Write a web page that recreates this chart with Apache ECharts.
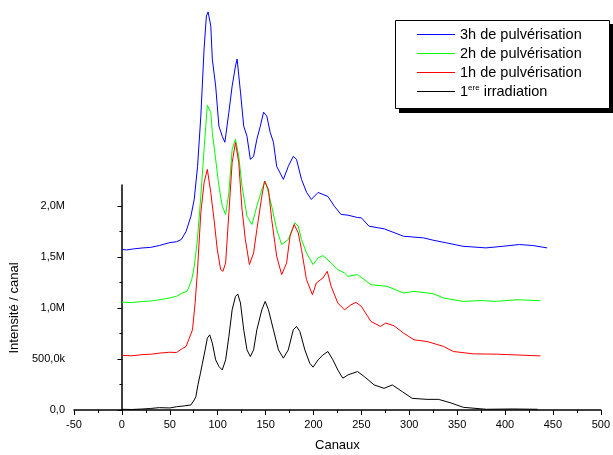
<!DOCTYPE html>
<html>
<head>
<meta charset="utf-8">
<script src="https://cdn.jsdelivr.net/npm/echarts@6/dist/echarts.min.js"></script>
<style>
  html, body { margin: 0; padding: 0; background: #fff; }
  #chart { width: 613px; height: 455px; }
</style>
</head>
<body>
<div id="chart"></div>
<script>
// spectra: [channel, intensity in millions]
const names = ['3h de pulvérisation', '2h de pulvérisation', '1h de pulvérisation', '1ere irradiation'];
const colors = ['#0000ff', '#00ff00', '#ff0000', '#000000'];

const pulv3h = [[0,1.57],[5,1.565],[12,1.575],[22,1.585],[30,1.59],[39,1.608],[50,1.637],[57,1.645],[62,1.667],[67,1.745],[72,1.892],[75.5,2.059],[79,2.382],[82.4,2.873],[85.8,3.529],[88.2,3.853],[90,3.892],[92.8,3.755],[94.4,3.431],[97.9,3.167],[101.3,2.775],[104.8,2.676],[107.5,2.618],[111.7,2.912],[115.1,3.167],[118.6,3.363],[120.3,3.431],[123.8,3.108],[127.2,2.775],[130.6,2.676],[134.1,2.451],[137.5,2.48],[140.9,2.647],[144.5,2.775],[147.9,2.912],[151.3,2.873],[154.8,2.716],[158.2,2.618],[161.6,2.382],[168.6,2.255],[173.7,2.382],[178.9,2.48],[182.3,2.451],[187.5,2.255],[192.9,2.127],[197.8,2.059],[204.8,2.127],[215.1,2.088],[222,1.99],[228.8,1.912],[236,1.905],[246,1.882],[250,1.879],[258,1.797],[274,1.771],[294,1.699],[315,1.683],[325,1.66],[339,1.634],[356,1.601],[380,1.585],[398,1.601],[415,1.618],[429,1.608],[444,1.585]];

const pulv2h = [[0,1.055],[10,1.05],[22,1.062],[30,1.065],[39,1.078],[50,1.095],[57,1.111],[63,1.144],[68,1.16],[70.3,1.209],[73,1.28],[75.5,1.4],[78.9,1.67],[82.4,2.091],[85.8,2.549],[87.6,2.778],[89.2,2.98],[92.8,2.909],[94.4,2.713],[97.9,2.451],[101.3,2.189],[104.8,1.993],[108.3,1.912],[111.7,2.125],[115.1,2.549],[118.6,2.647],[122,2.483],[125.4,2.189],[130.6,1.895],[135.8,1.814],[140.9,1.993],[146.1,2.157],[149.6,2.238],[153,2.125],[156.4,1.993],[161.6,1.765],[166.8,1.618],[173.7,1.667],[180.6,1.83],[184.1,1.797],[187.5,1.667],[192.7,1.536],[199.6,1.422],[204.8,1.487],[209.9,1.51],[218.5,1.438],[225.4,1.373],[232.4,1.34],[236,1.307],[246,1.324],[260,1.225],[277,1.209],[294,1.144],[305,1.16],[325,1.137],[336,1.095],[356,1.062],[375,1.07],[391,1.062],[412,1.078],[437,1.069]];

const pulv1h = [[0,0.535],[10,0.53],[22,0.542],[30,0.545],[39,0.556],[50,0.565],[57,0.562],[63,0.6],[67,0.621],[70.3,0.7],[73.7,0.784],[76.5,1.05],[78.9,1.36],[82.4,1.928],[85.8,2.222],[89.2,2.353],[92.8,2.125],[96.2,1.863],[99.6,1.569],[103.1,1.373],[105.5,1.356],[108.3,1.438],[111.7,1.928],[115.1,2.419],[118.6,2.615],[122,2.419],[125.4,1.961],[128.9,1.667],[133.1,1.422],[137.5,1.536],[140.9,1.765],[146.1,2.091],[148.9,2.238],[153,2.157],[156.4,1.863],[161.6,1.503],[166.8,1.324],[172,1.438],[175.5,1.699],[179.9,1.814],[184.1,1.732],[187.5,1.569],[192.7,1.275],[198.9,1.127],[203,1.242],[209.9,1.291],[214.4,1.356],[218.5,1.209],[225.4,1.046],[232.4,0.98],[239.2,1.029],[244.4,1.052],[250,1.013],[260,0.866],[270,0.817],[275.4,0.85],[284,0.824],[294,0.752],[305,0.686],[318.5,0.67],[336,0.621],[346,0.572],[367,0.549],[391,0.546],[437,0.529]];

const irrad1 = [[0,0.007],[10,0.005],[22,0.01],[30,0.015],[39,0.023],[50,0.02],[57,0.032],[65,0.04],[72,0.049],[75.5,0.098],[77.2,0.13],[79.5,0.25],[82,0.36],[84.1,0.458],[86.9,0.588],[89.2,0.703],[91.7,0.735],[94.4,0.654],[97.9,0.49],[101.3,0.425],[104.8,0.392],[108.3,0.49],[111.7,0.719],[115.1,0.98],[118.6,1.111],[121,1.134],[123.8,1.046],[127.2,0.784],[130.6,0.588],[134.1,0.523],[137.5,0.588],[140.9,0.784],[146.1,0.98],[149.6,1.062],[153,0.98],[158.2,0.784],[163.4,0.588],[168.6,0.507],[173.7,0.588],[178.9,0.784],[182.3,0.817],[185.8,0.768],[191,0.588],[196.1,0.458],[199.6,0.419],[204.8,0.49],[209.9,0.539],[215.1,0.572],[220.3,0.49],[225.4,0.392],[230.6,0.311],[236,0.343],[246,0.376],[253,0.327],[263.4,0.245],[273.7,0.212],[282.3,0.245],[292.7,0.18],[303,0.114],[318.5,0.104],[330.6,0.104],[342.6,0.072],[356.5,0.026],[380.6,0.007],[408,0.01],[434,0.007]];

const yTickLabels = ['0,0', '500,0k', '1,0M', '1,5M', '2,0M'];

const font = 'Liberation Sans, Arial, sans-serif';
const chart = echarts.init(document.getElementById('chart'));

const seriesData = [pulv3h, pulv2h, pulv1h, irrad1];

chart.setOption({
    backgroundColor: '#fff',
    animation: false,
    grid: [
        { left: 74, right: 6, top: 185, bottom: 45 },
        // second grid only carries the ticks/labels of the y axis (0 .. 2M)
        { left: 74, right: 6, top: 206, bottom: 45 }
    ],
    // legend frame with its hard black drop shadow
    graphic: [
        { type: 'rect', z: 10, shape: { x: 399, y: 24, width: 215, height: 89 }, style: { fill: '#000' } },
        { type: 'rect', z: 11, shape: { x: 395.5, y: 20.5, width: 214, height: 88 }, style: { fill: '#fff', stroke: '#000', lineWidth: 1 } }
    ],
    legend: {
        data: names,
        orient: 'vertical',
        left: 395,
        top: 20,
        z: 12,
        padding: [7, 25, 8, 22],
        itemGap: 4,
        itemWidth: 38,
        itemHeight: 15,
        icon: 'path://M0,0 L38,0 L38,1 L0,1 Z',
        formatter: function (name) {
            return name === '1ere irradiation' ? '1{sup|ere} irradiation' : name;
        },
        textStyle: {
            fontFamily: font,
            fontSize: 14.5,
            color: '#000',
            rich: {
                sup: { fontFamily: font, fontSize: 8, verticalAlign: 'top', color: '#000' }
            }
        }
    },
    xAxis: [
        {
            gridIndex: 0,
            type: 'value',
            min: -50,
            max: 500,
            interval: 50,
            name: 'Canaux',
            nameLocation: 'middle',
            nameGap: 29,
            nameTextStyle: { fontFamily: font, fontSize: 13, color: '#000' },
            axisLine: { show: true, lineStyle: { color: '#000', width: 1.5 } },
            axisTick: { show: true, length: 5, lineStyle: { color: '#000', width: 1 } },
            minorTick: { show: true, splitNumber: 2, length: 3, lineStyle: { color: '#000', width: 1 } },
            axisLabel: { fontFamily: font, fontSize: 11, color: '#000', margin: 9 },
            splitLine: { show: false }
        },
        {
            gridIndex: 1,
            type: 'value',
            min: -50,
            max: 500,
            show: false
        }
    ],
    yAxis: [
        {
            gridIndex: 0,
            type: 'value',
            min: 0,
            max: 2.2,
            axisLine: { show: true, lineStyle: { color: '#000', width: 1.5 } },
            axisTick: { show: false },
            axisLabel: { show: false },
            splitLine: { show: false }
        },
        {
            gridIndex: 1,
            type: 'value',
            min: 0,
            max: 2,
            interval: 0.5,
            name: 'Intensité / canal',
            nameLocation: 'middle',
            nameGap: 46,
            nameTextStyle: { fontFamily: font, fontSize: 13, color: '#000' },
            axisLine: { show: false },
            axisTick: { show: true, length: 5, lineStyle: { color: '#000', width: 1 } },
            minorTick: { show: true, splitNumber: 2, length: 3, lineStyle: { color: '#000', width: 1 } },
            axisLabel: {
                fontFamily: font,
                fontSize: 11,
                color: '#000',
                margin: 9,
                formatter: function (v) { return yTickLabels[Math.round(v / 0.5)]; }
            },
            splitLine: { show: false }
        }
    ],
    series: names.map(function (n, i) {
        return {
            name: n,
            type: 'line',
            xAxisIndex: 0,
            yAxisIndex: 0,
            data: seriesData[i],
            showSymbol: false,
            symbol: 'none',
            clip: false,
            color: colors[i],
            lineStyle: { color: colors[i], width: 1 }
        };
    })
});
</script>
</body>
</html>
